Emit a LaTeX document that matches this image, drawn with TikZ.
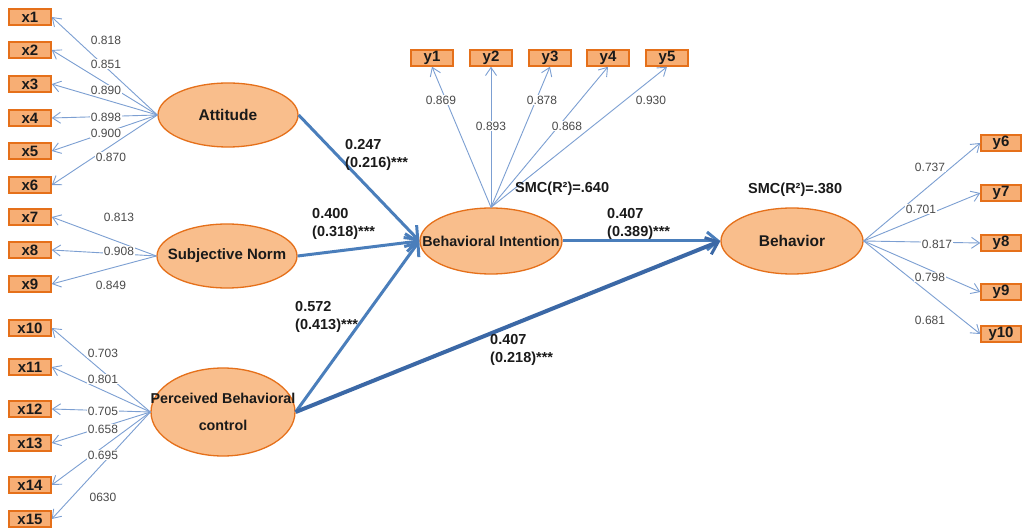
\documentclass[tikz,border=0pt]{standalone}
\usepackage{fontspec}
\setmainfont{Liberation Sans}
\usetikzlibrary{shapes.geometric,arrows.meta}
\definecolor{boxfill}{HTML}{F7AE74}
\definecolor{ellfill}{HTML}{F9BE8C}
\definecolor{edgeor}{HTML}{E5701A}
\definecolor{loadc}{HTML}{7C9FD2}
\definecolor{pathc}{HTML}{4A7EBB}
\definecolor{pathdark}{HTML}{3B68A6}
\definecolor{numgray}{HTML}{4A4A4A}
\definecolor{txtdark}{HTML}{1A1A1A}
\begin{document}
\begin{tikzpicture}[x=1pt,y=-1pt,
 ind/.style={draw=edgeor,fill=boxfill,line width=1.5pt,minimum width=42pt,minimum height=16pt,inner sep=0pt,text=txtdark,font=\fontsize{15}{15}\selectfont\bfseries},
 lat/.style={ellipse,draw=edgeor,fill=ellfill,line width=1.3pt,minimum width=140pt,minimum height=64pt,inner sep=0pt},
 ldg/.style={draw=loadc,line width=0.9pt,-{Straight Barb[length=8pt,width=11pt]}},
 num/.style={fill=white,inner sep=1pt,text=numgray,font=\fontsize{12}{12}\selectfont},
 pth/.style={draw=pathc,line width=3pt,-{Straight Barb[length=11pt,width=18pt,line width=3pt]}},
 coef/.style={anchor=west,align=left,inner sep=0pt,text=txtdark,font=\fontsize{14.5}{17.5}\selectfont\bfseries},
 lattext/.style={text=txtdark,font=\fontsize{15.5}{27}\selectfont\bfseries,align=center},
 lattextsm/.style={text=txtdark,font=\fontsize{14.3}{27}\selectfont\bfseries,align=center}
]
\useasboundingbox (0,0) rectangle (1022,529);
\fill[white] (0,0) rectangle (1022,529);

% indicator boxes
\node[ind] (x1) at (30,17) {x1};
\node[ind] (x2) at (30,50) {x2};
\node[ind] (x3) at (30,84) {x3};
\node[ind] (x4) at (30,118) {x4};
\node[ind] (x5) at (30,151) {x5};
\node[ind] (x6) at (30,185) {x6};
\node[ind] (x7) at (30,217) {x7};
\node[ind] (x8) at (30,250) {x8};
\node[ind] (x9) at (30,284) {x9};
\node[ind] (x10) at (30,328) {x10};
\node[ind] (x11) at (30,367) {x11};
\node[ind] (x12) at (30,409) {x12};
\node[ind] (x13) at (30,443) {x13};
\node[ind] (x14) at (30,485) {x14};
\node[ind] (x15) at (30,519) {x15};
\node[ind] (y1) at (432,58) {y1};
\node[ind] (y2) at (491,58) {y2};
\node[ind] (y3) at (550,58) {y3};
\node[ind] (y4) at (608,58) {y4};
\node[ind] (y5) at (667,58) {y5};
\node[ind,minimum width=40pt] (y6) at (1001,143) {y6};
\node[ind,minimum width=40pt] (y7) at (1001,193) {y7};
\node[ind,minimum width=40pt] (y8) at (1001,243) {y8};
\node[ind,minimum width=40pt] (y9) at (1001,292) {y9};
\node[ind,minimum width=40pt] (y10) at (1001,334) {y10};

% latent variables
\node[lat] (att) at (228,115) {};
\node[lat] (sn) at (227,256) {};
\node[lat,minimum width=144pt,minimum height=88pt] (pbc) at (223,412) {};
\node[lat,minimum width=142pt,minimum height=66pt] (bi) at (491,241) {};
\node[lat,minimum width=142pt,minimum height=66pt] (beh) at (792,241) {};

% loadings
\foreach \t in {x1,x2,x3,x4,x5,x6} \draw[ldg] (att.west) -- (\t.east);
\foreach \t in {x7,x8,x9} \draw[ldg] (sn.west) -- (\t.east);
\foreach \t in {x10,x11,x12,x13,x14,x15} \draw[ldg] (pbc.west) -- (\t.east);
\foreach \t in {y1,y2,y3,y4,y5} \draw[ldg] (bi.north) -- (\t.south);
\foreach \t in {y6,y7,y8,y9,y10} \draw[ldg] (beh.east) -- (\t.west);

\node[num] (l1) at (106,40) {0.818};
\node[num] (l2) at (106,64) {0.851};
\node[num] (l3) at (106,90) {0.890};
\node[num] (l4) at (106,117) {0.898};
\node[num] (l5) at (106,133) {0.900};
\node[num] (l6) at (111,157) {0.870};
\node[num] (l7) at (119,217) {0.813};
\node[num] (l8) at (119,251) {0.908};
\node[num] (l9) at (111,285) {0.849};
\node[num] (l10) at (103,353) {0.703};
\node[num] (l11) at (103,379) {0.801};
\node[num] (l12) at (103,411) {0.705};
\node[num] (l13) at (103,429) {0.658};
\node[num] (l14) at (103,455) {0.695};
\node[num] (l15) at (103,497) {0630};
\node[num] (m1) at (441,100) {0.869};
\node[num] (m2) at (491,126) {0.893};
\node[num] (m3) at (542,100) {0.878};
\node[num] (m4) at (567,126) {0.868};
\node[num] (m5) at (651,100) {0.930};
\node[num] (m6) at (930,167) {0.737};
\node[num] (m7) at (921,209) {0.701};
\node[num] (m8) at (937,244) {0.817};
\node[num] (m9) at (930,277) {0.798};
\node[num] (m10) at (930,320) {0.681};

% latent labels (drawn over the lines)
\node[lattext] (tatt) at (att.center) {Attitude};
\node[lattext,font=\fontsize{15}{27}\selectfont\bfseries] (tsn) at (sn.center) {Subjective Norm};
\node[lattextsm] (tpbc) at (pbc.center) {Perceived Behavioral\\control};
\node[lattextsm] (tbi) at (bi.center) {Behavioral Intention};
\node[lattext] (tbeh) at (beh.center) {Behavior};

% structural paths
\draw[pth] (att.east) -- (bi.west);
\draw[pth] (sn.east) -- (bi.west);
\draw[pth] (pbc.east) -- (bi.west);
\draw[pth] (bi.east) -- (beh.west);
\draw[pth,draw=pathdark,line width=4pt] (pbc.east) -- (beh.west);

\node[coef] (c1) at (345,155) {0.247\\(0.216)***};
\node[coef] (c2) at (312,224) {0.400\\(0.318)***};
\node[coef] (c3) at (295,317) {0.572\\(0.413)***};
\node[coef] (c4) at (607,224) {0.407\\(0.389)***};
\node[coef] (c5) at (490,350) {0.407\\(0.218)***};
\node[coef] (smc1) at (515,189) {SMC(R²)=.640};
\node[coef] (smc2) at (748,190) {SMC(R²)=.380};
\end{tikzpicture}
\end{document}
